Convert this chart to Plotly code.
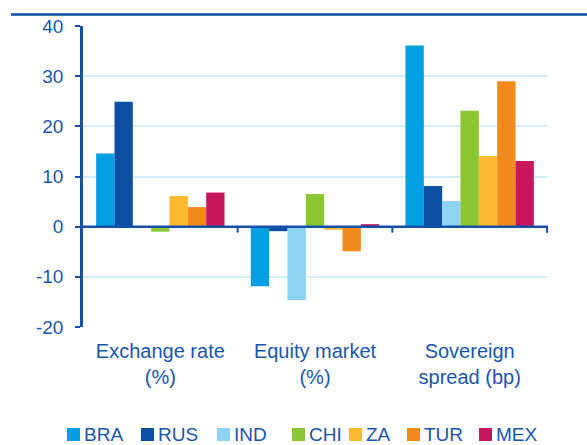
import plotly.graph_objects as go

categories = ["Exchange rate<br>(%)", "Equity market<br>(%)", "Sovereign<br>spread (bp)"]
series_names = ["BRA", "RUS", "IND", "CHI", "ZA", "TUR", "MEX"]
BRA = [14.6, -11.9, 36.1]
RUS = [24.9, -0.9, 8.1]
IND = [0.0, -14.6, 5.1]
CHI = [-1.0, 6.5, 23.1]
ZA = [6.1, -0.6, 14.1]
TUR = [3.9, -4.9, 29.0]
MEX = [6.8, 0.5, 13.1]
y_ticks = [-20, -10, 0, 10, 20, 30, 40]
y_tick_labels = ["-20", "-10", "0", "10", "20", "30", "40"]
title_text = "Variation in the last three months"

values = [BRA, RUS, IND, CHI, ZA, TUR, MEX]
colors = ["#009FE3", "#0B4EA2", "#8DD3F2", "#8AC630", "#FDB92E", "#F28A1E", "#C8175E"]

W, H = 587, 445
ML, MR, MT, MB = 83, 39, 26, 118
PW, PH = W - ML - MR, H - MT - MB
AX = "#1450A8"
TXT = "#1A55AC"
FONT = "Liberation Sans, Arial, sans-serif"

def px_x(p):
    return (p - ML) / PW

def px_y(p):
    return (H - MB - p) / PH

fig = go.Figure()
for name, vals, col in zip(series_names, values, colors):
    fig.add_trace(go.Bar(name=name, x=categories, y=vals, marker=dict(color=col, line=dict(width=0)),
                         showlegend=False))

shapes = []
# zero line above bars
shapes.append(dict(type="line", xref="paper", yref="y", x0=0, x1=1, y0=0, y1=0,
                   line=dict(color=AX, width=2.5), layer="above"))
# category boundary ticks
for b in [0.5, 1.5, 2.5]:
    shapes.append(dict(type="line", xref="x", yref="y", ysizemode="pixel", yanchor=0,
                       x0=b, x1=b, y0=0, y1=-6, line=dict(color=AX, width=2), layer="above"))
# top rule line
shapes.append(dict(type="line", xref="paper", yref="paper", x0=px_x(11), x1=px_x(587),
                   y0=px_y(14.5), y1=px_y(14.5), line=dict(color="#0B4EA2", width=2.5)))

annotations = []
# title, mostly cut off at the very top as in the reference
annotations.append(dict(text=title_text, xref="paper", yref="paper", x=px_x(24), y=px_y(6),
                        xanchor="left", yanchor="bottom", showarrow=False,
                        font=dict(family=FONT, size=19, color=TXT)))
# custom legend
legend_sq_x = [67, 141, 217, 292, 349, 407, 479]
sq_top, sq_size = 428, 13
for name, col, lx in zip(series_names, colors, legend_sq_x):
    shapes.append(dict(type="rect", xref="paper", yref="paper", x0=px_x(lx), x1=px_x(lx + sq_size),
                       y0=px_y(sq_top + sq_size), y1=px_y(sq_top), fillcolor=col, line=dict(width=0)))
    annotations.append(dict(text=name, xref="paper", yref="paper", x=px_x(lx + 15), y=px_y(sq_top + sq_size / 2),
                            xanchor="left", yanchor="middle", showarrow=False,
                            font=dict(family=FONT, size=19, color=TXT)))

fig.update_layout(
    width=W, height=H,
    margin=dict(l=ML, r=MR, t=MT, b=MB),
    paper_bgcolor="white", plot_bgcolor="white",
    barmode="group", bargap=0.17, bargroupgap=0,
    font=dict(family=FONT, size=19, color=TXT),
    showlegend=False,
    shapes=shapes, annotations=annotations,
    xaxis=dict(showgrid=False, showline=False, ticks="", zeroline=False, ticklabelstandoff=10,
               tickfont=dict(size=20, color=TXT)),
    yaxis=dict(range=[-20, 40], tickvals=y_ticks, ticktext=y_tick_labels,
               showgrid=True, gridcolor="#D3EDF9", gridwidth=1.5,
               zeroline=False, showline=True, linecolor=AX, linewidth=2.5,
               ticks="outside", ticklen=5, tickwidth=2, tickcolor=AX, ticklabelstandoff=8,
               tickfont=dict(size=19, color=TXT)),
)

fig.write_html("out.html", config={"displayModeBar": False},
               post_script="document.body.style.margin='0px';document.body.style.padding='0px';")
